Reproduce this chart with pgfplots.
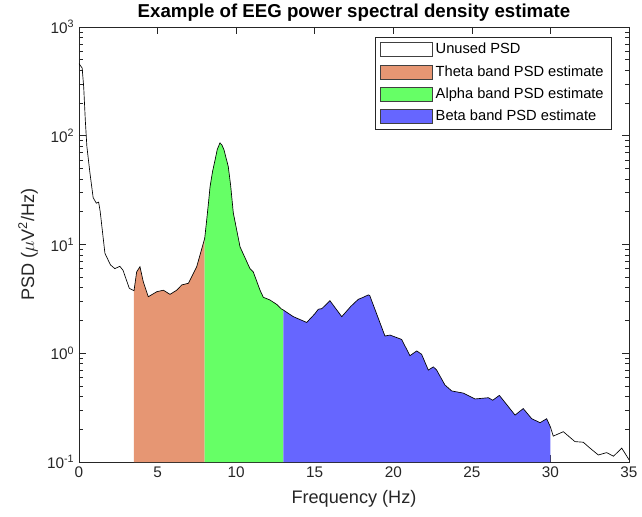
\documentclass[border=0pt]{standalone}
\usepackage{pgfplots}
\pgfplotsset{compat=1.18}
\usepackage{pgfplotstable}
\usepackage{fontspec}
\setmainfont{Liberation Sans}
\definecolor{thetac}{RGB}{230,150,115}
\definecolor{alphac}{RGB}{102,255,102}
\definecolor{betac}{RGB}{102,102,255}
\definecolor{axgray}{RGB}{38,38,38}

\pgfplotstableread{
x y
0.0 460
0.2 420
0.3 280
0.4 140
0.5 80
0.7 45
0.9 27
1.1 24
1.25 24.5
1.35 20
1.65 8.3
2.0 6.5
2.28 6.0
2.6 6.3
2.8 5.8
3.2 3.96
3.5 3.76
3.67 5.6
3.88 6.25
4.09 4.55
4.41 3.31
4.95 3.68
5.37 3.8
5.79 3.48
6.22 3.8
6.54 4.25
6.96 4.4
7.49 6.25
8.0 11.4
8.12 16.5
8.25 25
8.34 34
8.5 47
8.66 60
8.8 75
8.97 86
9.1 82
9.23 74
9.5 52
9.65 35
9.82 19.5
10.25 9.5
10.88 6.0
11.09 5.6
11.52 3.8
11.73 3.27
12.15 3.09
12.6 2.8
12.9 2.54
13.0 2.5
13.64 2.17
14.49 1.92
15.0 2.3
15.23 2.54
15.45 2.57
15.97 3.04
16.72 2.17
17.3 2.7
17.77 3.13
18.09 3.27
18.41 3.44
18.5 3.4
19.47 1.44
19.79 1.47
20.53 1.34
21.06 0.95
21.49 1.05
21.8 0.98
22.23 0.70
22.55 0.75
22.76 0.70
23.29 0.51
23.72 0.45
24.46 0.43
25.2 0.38
26.05 0.39
26.33 0.37
26.75 0.41
27.75 0.27
28.27 0.31
28.81 0.25
29.34 0.23
29.76 0.25
30.0 0.21
30.18 0.173
30.82 0.19
31.56 0.154
32.09 0.152
32.52 0.134
33.05 0.116
33.58 0.122
34.01 0.113
34.54 0.134
35.0 0.105
}\psd

\begin{document}
\begin{tikzpicture}
\begin{axis}[
  name=ax,
  scale only axis,
  width=412.5pt, height=326.25pt,
  ymode=log,
  log origin y=infty,
  xmin=0, xmax=35, ymin=0.1, ymax=1000,
  xtick={0,5,...,35},
  ytick={0.1,1,10,100,1000},
  yticklabels={10\textsuperscript{-1},10\textsuperscript{0},10\textsuperscript{1},10\textsuperscript{2},10\textsuperscript{3}},
  /pgf/number format/assume math mode=true,
  tick label style={font=\fontsize{11.5}{13}\selectfont, text=axgray},
  label style={font=\fontsize{13.6}{15}\selectfont, text=axgray},
  xlabel style={yshift=-3pt},
  title style={font=\fontsize{14}{16}\selectfont\bfseries, yshift=-5pt},
  title={Example of EEG power spectral density estimate},
  xlabel={Frequency (Hz)},
  ylabel={PSD ($\mu$V\textsuperscript{2}/Hz)},
  axis line style={axgray, line width=0.6pt},
  tick style={axgray, line width=0.5pt},
  major tick length=5pt,
  minor tick length=3pt,
  legend style={at={(0.969,0.977)}, anchor=north east, draw=axgray, fill=white,
    font=\fontsize{11}{12}\selectfont, cells={anchor=west}, row sep=3.3pt,
    inner xsep=4pt, inner ysep=2.5pt},
  legend image code/.code={\draw[#1, draw=black!75, line width=0.5pt] (0pt,-5.25pt) rectangle (39pt,5.25pt);},
]
\addplot[fill=thetac, draw=none, forget plot] table[x=x,y=y,restrict x to domain=3.5:8] {\psd} \closedcycle;
\addplot[fill=alphac, draw=none, forget plot] table[x=x,y=y,restrict x to domain=8:13] {\psd} \closedcycle;
\addplot[fill=betac, draw=none, forget plot] table[x=x,y=y,restrict x to domain=13:30] {\psd} \closedcycle;
\addplot[black, line width=0.5pt, forget plot] table[x=x,y=y] {\psd};
\addlegendimage{fill=white}
\addlegendentry{Unused PSD}
\addlegendimage{fill=thetac}
\addlegendentry{Theta band PSD estimate}
\addlegendimage{fill=alphac}
\addlegendentry{Alpha band PSD estimate}
\addlegendimage{fill=betac}
\addlegendentry{Beta band PSD estimate}
\end{axis}
\pgfresetboundingbox
\path[use as bounding box] ([xshift=-59.25pt,yshift=-41.25pt]ax.south west) rectangle ([xshift=9.75pt,yshift=20.25pt]ax.north east);
\end{tikzpicture}
\end{document}
